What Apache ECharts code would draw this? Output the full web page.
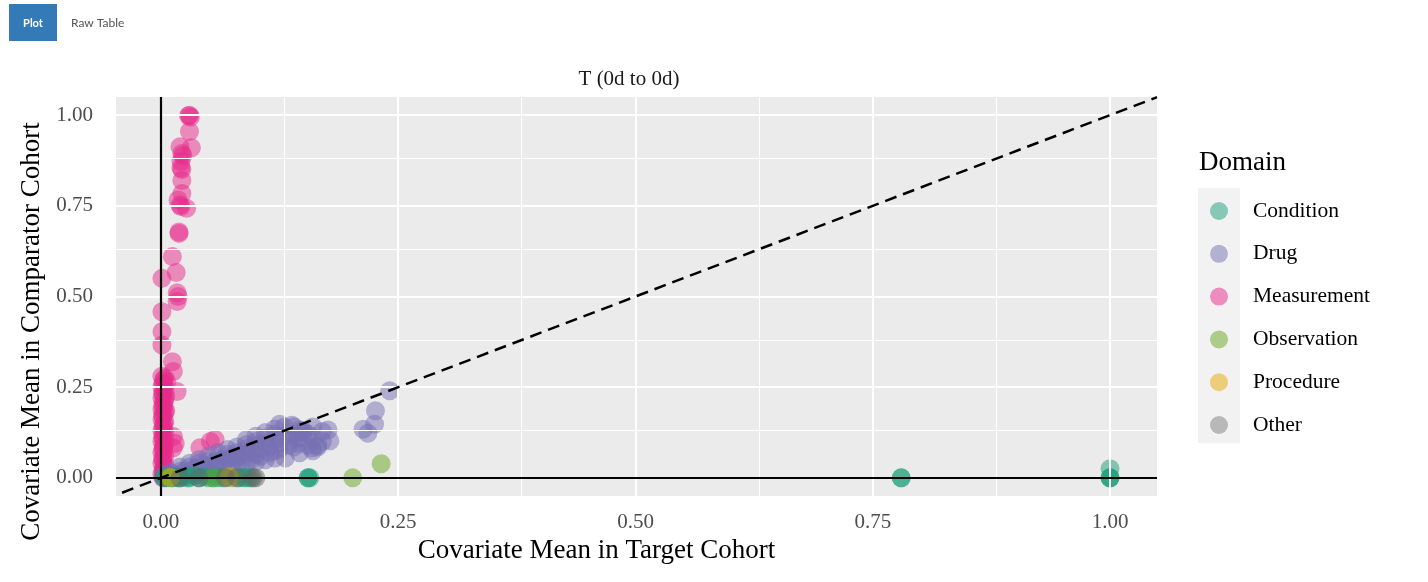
<!DOCTYPE html>
<html>
<head>
<meta charset="utf-8">
<script src="https://cdn.jsdelivr.net/npm/echarts@6/dist/echarts.min.js"></script>
<style>
html,body{margin:0;padding:0;background:#fff;}
#chart{width:1428px;height:582px;}
</style>
</head>
<body>
<div id="chart"></div>
<script>
// ---- data ----
const domains = ['Condition', 'Drug', 'Measurement', 'Observation', 'Procedure', 'Other'];
const xTicks = [0, 0.25, 0.5, 0.75, 1.0];
const yTicks = [0, 0.25, 0.5, 0.75, 1.0];
const minorTicks = [0.125, 0.375, 0.625, 0.875];
const xRange = [-0.0474, 1.0495];
const yRange = [-0.05, 1.05];

const measurementPts = [
  [0.030,1.000],[0.029,0.998],[0.031,0.995],[0.030,0.955],[0.032,0.910],[0.020,0.913],
  [0.022,0.894],[0.023,0.888],[0.021,0.872],[0.021,0.855],[0.022,0.850],[0.022,0.820],
  [0.022,0.784],[0.018,0.766],[0.020,0.752],[0.021,0.748],[0.027,0.743],[0.019,0.674],
  [0.019,0.678],[0.012,0.610],[0.016,0.566],[0.001,0.550],[0.017,0.510],[0.018,0.500],
  [0.017,0.486],[0.001,0.458],[0.001,0.403],[0.001,0.366],[0.012,0.320],[0.013,0.293],
  [0.017,0.238],[0.001,0.280],[0.003,0.270],[0.002,0.260],[0.001,0.250],[0.004,0.240],
  [0.002,0.230],[0.001,0.220],[0.003,0.210],[0.002,0.200],[0.001,0.190],[0.004,0.180],
  [0.002,0.170],[0.001,0.160],[0.003,0.150],[0.002,0.140],[0.001,0.130],[0.004,0.120],
  [0.002,0.110],[0.001,0.100],[0.003,0.090],[0.002,0.080],[0.001,0.070],[0.004,0.060],
  [0.002,0.050],[0.001,0.040],[0.003,0.030],[0.002,0.020],[0.001,0.010],[0.002,0.000],
  [0.005,0.185],[0.005,0.225],[0.006,0.265],[0.013,0.114],[0.013,0.083],[0.057,0.106],
  [0.052,0.100],[0.041,0.083],[0.015,0.095],
  [0.004,0.275],[0.003,0.255],[0.002,0.235],[0.004,0.215],[0.003,0.195],[0.002,0.175],
  [0.004,0.155],[0.003,0.135],[0.002,0.115],[0.004,0.095],[0.003,0.075],[0.002,0.055],
  [0.004,0.035],[0.003,0.015]
];
const drugPts = [
  [0.010,0.015],[0.020,0.030],[0.030,0.040],[0.040,0.050],[0.050,0.060],[0.060,0.070],
  [0.070,0.078],[0.080,0.085],[0.090,0.092],[0.100,0.100],[0.110,0.110],[0.120,0.120],
  [0.130,0.140],[0.138,0.145],[0.125,0.148],
  [0.015,0.010],[0.025,0.018],[0.035,0.025],[0.045,0.035],[0.055,0.040],[0.065,0.050],
  [0.075,0.058],[0.085,0.065],[0.095,0.072],[0.105,0.080],[0.115,0.088],[0.125,0.095],
  [0.135,0.100],[0.145,0.110],[0.155,0.120],[0.160,0.140],[0.146,0.132],[0.170,0.128],
  [0.020,0.005],[0.030,0.010],[0.040,0.015],[0.050,0.020],[0.060,0.025],[0.070,0.030],
  [0.080,0.035],[0.090,0.040],[0.100,0.045],[0.110,0.050],[0.120,0.055],[0.131,0.055],
  [0.146,0.069],[0.159,0.082],[0.165,0.085],[0.178,0.102],[0.155,0.090],
  [0.241,0.240],[0.226,0.185],[0.225,0.148],[0.213,0.134],[0.218,0.123],[0.176,0.132],
  [0.002,0.003],[0.005,0.002],[0.008,0.005],[0.012,0.003],[0.006,0.008],
  [0.030,0.030],[0.040,0.040],[0.050,0.045],[0.060,0.055],[0.070,0.065],[0.080,0.070],
  [0.090,0.080],[0.100,0.090],[0.110,0.095],[0.120,0.105],[0.130,0.115],[0.140,0.120],
  [0.150,0.125],[0.160,0.110],[0.170,0.100],[0.140,0.085],[0.120,0.075],[0.100,0.065],
  [0.080,0.055],[0.060,0.045],[0.040,0.030],[0.020,0.018],[0.015,0.005],[0.025,0.008],
  [0.035,0.012],[0.045,0.020],[0.055,0.025],[0.065,0.030],[0.075,0.040],[0.085,0.045],
  [0.095,0.050],[0.105,0.060],[0.115,0.070],[0.125,0.080],[0.135,0.090],[0.145,0.095],
  [0.165,0.090],[0.160,0.075],[0.120,0.135],[0.110,0.125],[0.100,0.115],[0.090,0.105],
  [0.140,0.140],[0.150,0.130]
];
const conditionPts = [
  [1.000,0.000],[1.000,0.000],[1.000,0.000],[1.000,0.025],[0.780,0.000],[0.780,0.000],
  [0.155,0.000],[0.155,0.000],[0.157,0.000],[0.005,0.000],[0.010,0.000],[0.015,0.002],
  [0.020,0.000],[0.025,0.003],[0.030,0.000],[0.055,0.000],[0.060,0.000],[0.088,0.000],
  [0.092,0.000],[0.095,0.000],[0.035,0.005],[0.045,0.003],
  [0.003,0.001],[0.012,0.000],[0.018,0.000],[0.028,0.000],[0.040,0.000],[0.050,0.000],
  [0.065,0.000],[0.082,0.000],[0.086,0.001]
];
const observationPts = [[0.232,0.039],[0.202,0.000],[0.055,0.000],[0.070,0.002],[0.075,0.000],[0.008,0.002]];
const procedurePts = [[0.072,0.003],[0.010,0.001]];
const otherPts = [[0.100,0.000],[0.097,0.000],[0.068,0.000],[0.080,0.000],[0.040,0.000],[0.020,0.000]];

const colors = {Condition:'#1B9E77', Drug:'#7570B3', Measurement:'#E7298A', Observation:'#66A61E', Procedure:'#E6AB02', Other:'#666666'};
const legendColors = {Condition:'#86C8B4', Drug:'#B3B1D2', Measurement:'#EC8DBE', Observation:'#ACCC88', Procedure:'#ECCE7A', Other:'#B8B8B8'};

const seriesData = {Measurement: measurementPts, Drug: drugPts, Condition: conditionPts, Observation: observationPts, Procedure: procedurePts, Other: otherPts};
const drawOrder = ['Measurement', 'Drug', 'Condition', 'Observation', 'Procedure', 'Other'];

const serif = 'Liberation Serif';
const chart = echarts.init(document.getElementById('chart'));

const scatterSeries = drawOrder.map(name => ({
  name: name,
  type: 'scatter',
  data: seriesData[name],
  symbolSize: 19,
  z: 3,
  itemStyle: {color: colors[name], opacity: 0.5},
  emphasis: {disabled: true}
}));

const option = {
  animation: false,
  grid: {left: 116, right: 271, top: 97, bottom: 86, show: true, backgroundColor: '#EBEBEB', borderWidth: 0},
  title: {
    text: 'T (0d to 0d)', left: 624, top: 64, textAlign: 'center',
    textStyle: {fontFamily: serif, fontSize: 21, fontWeight: 'normal', color: '#1A1A1A'}
  },
  xAxis: {
    type: 'value', min: xRange[0], max: xRange[1],
    name: 'Covariate Mean in Target Cohort', nameLocation: 'middle', nameGap: 34,
    nameTextStyle: {fontFamily: serif, fontSize: 27, color: '#000', padding: [0, 80, 0, 0]},
    axisLine: {show: false},
    axisTick: {show: true, length: 5, customValues: xTicks, lineStyle: {color: '#333', width: 2}},
    axisLabel: {customValues: xTicks, formatter: v => v.toFixed(2), color: '#4D4D4D', fontFamily: serif, fontSize: 21, margin: 16},
    splitLine: {show: false}
  },
  yAxis: {
    type: 'value', min: yRange[0], max: yRange[1],
    name: 'Covariate Mean in Comparator Cohort', nameLocation: 'middle', nameGap: 67,
    nameTextStyle: {fontFamily: serif, fontSize: 27, color: '#000', padding: [0, 70, 0, 0]},
    axisLine: {show: false},
    axisTick: {show: true, length: 5, customValues: yTicks, lineStyle: {color: '#333', width: 2}},
    axisLabel: {customValues: yTicks, formatter: v => v.toFixed(2), color: '#4D4D4D', fontFamily: serif, fontSize: 21, margin: 23},
    splitLine: {show: false}
  },
  legend: {
    orient: 'vertical', left: 1210, top: 200, padding: 0,
    itemWidth: 58, itemHeight: 18, itemGap: 20.8,
    icon: 'circle',
    textStyle: {fontFamily: serif, fontSize: 21.5, color: '#000', lineHeight: 20},
    data: domains.map(d => ({name: d, icon: 'circle', itemStyle: {color: legendColors[d], opacity: 1}}))
  },
  graphic: [
    {type: 'rect', left: 9, top: 4, shape: {width: 48, height: 37}, style: {fill: '#337AB7'}},
    {type: 'text', x: 33, y: 23, style: {text: 'Plot', fill: '#fff', font: 'bold 11px Lato', align: 'center', verticalAlign: 'middle'}},
    {type: 'text', x: 71, y: 23, style: {text: 'Raw Table', fill: '#555', font: '12px Lato', align: 'left', verticalAlign: 'middle'}},
    {type: 'rect', left: 1198, top: 188, z: -1, shape: {width: 42, height: 255}, style: {fill: '#F2F2F2'}},
    {type: 'text', x: 1199, y: 163, style: {text: 'Domain', fill: '#000', font: '27px "Liberation Serif"', align: 'left', verticalAlign: 'middle'}}
  ],
  series: [
    {
      name: 'gridlines', type: 'line', data: [], z: 1, silent: true,
      markLine: {
        silent: true, symbol: 'none', label: {show: false}, animation: false,
        data: [].concat(
          minorTicks.map(v => ({xAxis: v, lineStyle: {color: '#FFFFFF', width: 1, type: 'solid'}})),
          minorTicks.map(v => ({yAxis: v, lineStyle: {color: '#FFFFFF', width: 1, type: 'solid'}})),
          xTicks.map(v => ({xAxis: v, lineStyle: {color: '#FFFFFF', width: 2, type: 'solid'}})),
          yTicks.map(v => ({yAxis: v, lineStyle: {color: '#FFFFFF', width: 2, type: 'solid'}}))
        )
      }
    },
    ...scatterSeries,
    {
      name: 'reflines', type: 'line', data: [], z: 5, silent: true,
      markLine: {
        silent: true, symbol: 'none', label: {show: false}, animation: false,
        data: [
          {xAxis: 0, lineStyle: {color: '#000', width: 2.2, type: 'solid'}},
          {yAxis: 0, lineStyle: {color: '#000', width: 2.2, type: 'solid'}},
          [{coord: [-0.041, -0.041], lineStyle: {color: '#000', width: 2.5, type: [12, 7]}},
           {coord: [xRange[1], xRange[1]]}]
        ]
      }
    }
  ]
};
chart.setOption(option);
</script>
</body>
</html>
